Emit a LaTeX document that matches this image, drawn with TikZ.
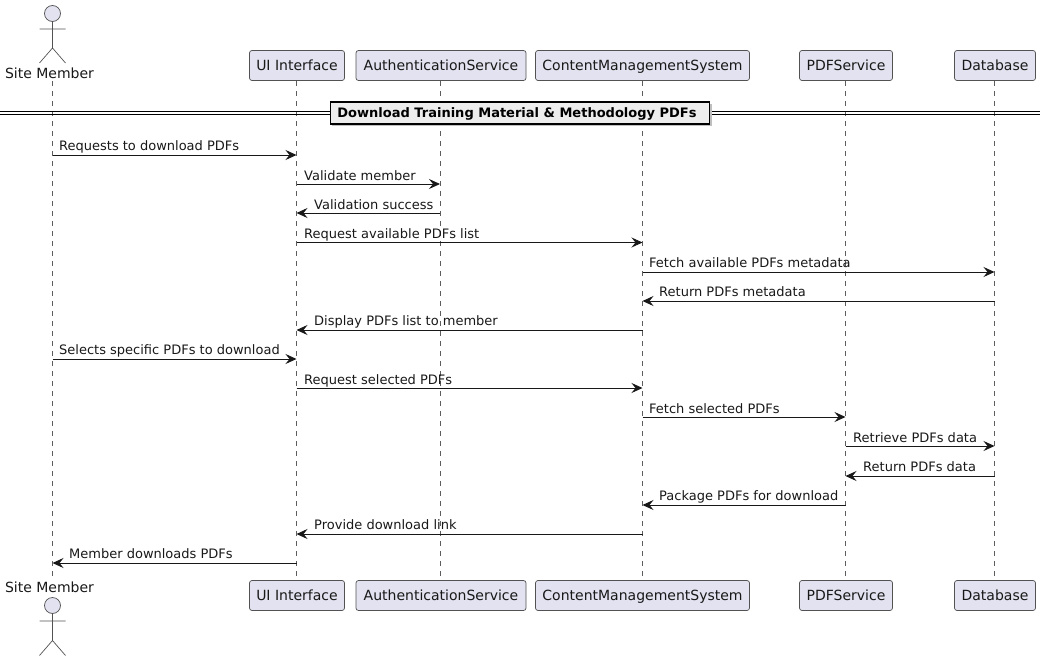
\documentclass[tikz,border=0pt]{standalone}
\usepackage{fontspec}
\setmainfont{DejaVu Sans}
\usetikzlibrary{arrows.meta}
\definecolor{ink}{HTML}{181818}
\definecolor{partfill}{HTML}{E2E2F0}
\tikzset{
  x=1pt,y=-1pt,
  every node/.style={font=\fontsize{13}{16}\selectfont,text=ink,inner sep=0pt},
  part/.style={draw=ink!75,line width=0.7pt,fill=partfill,rounded corners=2.5pt,minimum height=30pt,font=\fontsize{14}{16}\selectfont,text height=11pt,text depth=1.5pt,anchor=center},
  actorlabel/.style={font=\fontsize{14}{16}\selectfont,text height=10pt,text depth=2.5pt,anchor=center},
  actorshape/.style={draw=ink!75,line width=0.7pt,fill=partfill},
  actorline/.style={draw=ink!75,line width=0.7pt},
  life/.style={draw=ink!70,line width=0.7pt,dash pattern=on 5pt off 5pt},
  msg/.style={draw=ink,line width=0.9pt,-{Stealth[length=11pt,width=10pt,inset=4pt]}},
  msglabel/.style={anchor=base west},
  divline/.style={draw=black,line width=1.1pt},
  divbox/.style={draw=black,line width=1.6pt,fill=black!7,minimum width=379pt,minimum height=22pt,font=\fontsize{13}{16}\selectfont\bfseries,text=black,text height=11pt,text depth=1.5pt},
}
\begin{document}
\begin{tikzpicture}
\useasboundingbox (0,0) rectangle (1046,661);
% participants, top row
\node[actorlabel] (siteT) at (49.5,75) {Site Member};
\node[part,minimum width=95pt] (uiT) at (297,65.5) {UI Interface};
\node[part,minimum width=170pt] (authT) at (441,65.5) {AuthenticationService};
\node[part,minimum width=214pt] (cmsT) at (642.5,65.5) {ContentManagementSystem};
\node[part,minimum width=93pt] (pdfT) at (846,65.5) {PDFService};
\node[part,minimum width=81pt] (dbT) at (995,65.5) {Database};
% participants, bottom row
\node[actorlabel] (siteB) at (49.5,589) {Site Member};
\node[part,minimum width=95pt] (uiB) at (297,595.5) {UI Interface};
\node[part,minimum width=170pt] (authB) at (441,595.5) {AuthenticationService};
\node[part,minimum width=214pt] (cmsB) at (642.5,595.5) {ContentManagementSystem};
\node[part,minimum width=93pt] (pdfB) at (846,595.5) {PDFService};
\node[part,minimum width=81pt] (dbB) at (995,595.5) {Database};
% lifeline anchors
\coordinate (lSite) at (52.5,0);
\coordinate (lUi) at (296.5,0);
\coordinate (lAuth) at (440,0);
\coordinate (lCms) at (642.5,0);
\coordinate (lPdf) at (845.5,0);
\coordinate (lDb) at (994.5,0);
\coordinate (lifeTop) at (0,81);
\coordinate (lifeBot) at (0,580);
\foreach \l in {lSite,lUi,lAuth,lCms,lPdf,lDb}{
  \draw[life] (\l |- lifeTop) -- (\l |- lifeBot);
}
% actors
\draw[actorshape] (52.5,13.5) circle (8);
\draw[actorline] (52.5,21.5) -- (52.5,48) (39.5,29) -- (65.5,29) (39.5,63) -- (52.5,48) -- (65.5,63);
\draw[actorshape] (52.5,605.5) circle (8);
\draw[actorline] (52.5,613.5) -- (52.5,640.5) (39.5,621) -- (65.5,621) (39.5,655.5) -- (52.5,640.5) -- (65.5,655.5);
% divider
\coordinate (dl) at (0,113);
\coordinate (dr) at (1040,113);
\draw[divline] ([yshift=-1.5pt]dl) -- ([yshift=-1.5pt]dr);
\draw[divline] ([yshift=1.5pt]dl) -- ([yshift=1.5pt]dr);
\fill[black!25] (332,104) rectangle (712,126);
\node[divbox] (div) at (520,113) {Download Training Material \& Methodology PDFs\kern6pt};
% messages
\foreach \y/\a/\b/\t/\o/\d in {
 155/lSite/lUi/{Requests to download PDFs}/6.5/4.5,
 184/lUi/lAuth/{Validate member}/7.5/3.8,
 213/lAuth/lUi/{Validation success}/17.5/3.8,
 242.5/lUi/lCms/{Request available PDFs list}/7.5/4.5,
 272/lCms/lDb/{Fetch available PDFs metadata}/6.5/4.5,
 301/lDb/lCms/{Return PDFs metadata}/16.5/4.5,
 330/lCms/lUi/{Display PDFs list to member}/17.5/4.5,
 359/lSite/lUi/{Selects specific PDFs to download}/6.5/4.5,
 388/lUi/lCms/{Request selected PDFs}/7.5/3.8,
 417/lCms/lPdf/{Fetch selected PDFs}/6.5/3.8,
 446/lPdf/lDb/{Retrieve PDFs data}/7.5/3.8,
 476/lDb/lPdf/{Return PDFs data}/17.5/4.5,
 505/lPdf/lCms/{Package PDFs for download}/16.5/4.5,
 534/lCms/lUi/{Provide download link}/17.5/4.5,
 563/lUi/lSite/{Member downloads PDFs}/16.5/4.5}{
  \coordinate (m) at (0,\y);
  \draw[msg] (\a |- m) -- (\b |- m);
  \path (\a |- m) -- (\b |- m) coordinate[pos=0] (s) coordinate[pos=1] (e);
  \pgfmathparse{\o<10 ? 1 : 0}
  \ifnum\pgfmathresult=1
    \node[msglabel] at ([xshift=\o pt,yshift=\d pt]s) {\t};
  \else
    \node[msglabel] at ([xshift=\o pt,yshift=\d pt]e) {\t};
  \fi
}
\end{tikzpicture}
\end{document}
